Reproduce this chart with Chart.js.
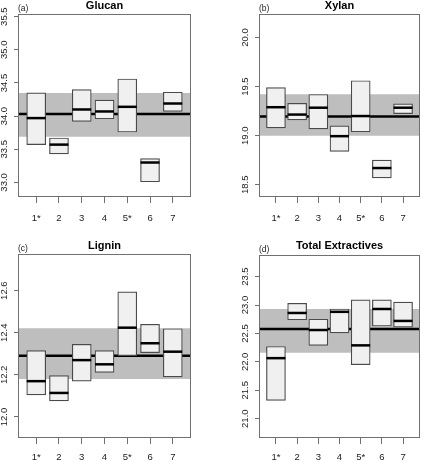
<!DOCTYPE html>
<html>
<head>
<meta charset="utf-8">
<script src="https://cdn.jsdelivr.net/npm/chart.js@4.4.1/dist/chart.umd.min.js"></script>
<style>
    body { margin: 0; background: #fff; }
    canvas { position: absolute; }
</style>
</head>
<body>
<canvas id="glucan" width="216" height="230" style="left:0;top:0"></canvas>
<canvas id="xylan" width="216" height="230" style="left:216px;top:0"></canvas>
<canvas id="lignin" width="216" height="231" style="left:0;top:230px"></canvas>
<canvas id="extractives" width="216" height="231" style="left:216px;top:230px"></canvas>
<script>
// Categories---------------------------------------------------------------
const groups = ['1*', '2', '3', '4', '5*', '6', '7'];
const groupPos = [1, 2, 3, 4, 5, 6, 7];

// Glucan: box low / high / median, reference band [low, mean, high]--------
const glucanLow = [33.57, 33.43, 33.92, 33.96, 33.76, 33.01, 34.07];
const glucanHigh = [34.35, 33.67, 34.40, 34.24, 34.56, 33.36, 34.36];
const glucanMid = [33.97, 33.57, 34.10, 34.07, 34.14, 33.30, 34.19];
const glucanRef = [33.69, 34.03, 34.35];
const glucanTicks = [33.0, 33.5, 34.0, 34.5, 35.0, 35.5];

// Xylan--------------------------------------------------------------------
const xylanLow = [19.08, 19.16, 19.07, 18.84, 19.04, 18.57, 19.225];
const xylanHigh = [19.49, 19.33, 19.42, 19.10, 19.56, 18.75, 19.325];
const xylanMid = [19.29, 19.215, 19.285, 18.995, 19.20, 18.67, 19.285];
const xylanRef = [19.0, 19.196, 19.423];
const xylanTicks = [18.5, 19.0, 19.5, 20.0];

// Lignin-------------------------------------------------------------------
const ligninLow = [12.105, 12.076, 12.17, 12.212, 12.291, 12.305, 12.19];
const ligninHigh = [12.315, 12.196, 12.345, 12.315, 12.594, 12.44, 12.419];
const ligninMid = [12.17, 12.114, 12.27, 12.25, 12.424, 12.35, 12.31];
const ligninRef = [12.18, 12.291, 12.421];
const ligninTicks = [12.0, 12.2, 12.4, 12.6];

// Total extractives--------------------------------------------------------
const extrLow = [21.32, 22.74, 22.29, 22.51, 21.95, 22.63, 22.61];
const extrHigh = [22.27, 23.03, 22.75, 22.93, 23.09, 23.09, 23.05];
const extrMid = [22.065, 22.86, 22.56, 22.88, 22.29, 22.93, 22.72];
const extrRef = [22.16, 22.58, 22.93];
const extrTicks = [21.0, 21.5, 22.0, 22.5, 23.0, 23.5];

Chart.defaults.font.family = "'Liberation Sans', Arial, sans-serif";

// Frame round the plot area and the small (a)/(b) tag----------------------
const panelDeco = {
    id: 'panelDeco',
    afterDatasetsDraw(chart) {
        const { ctx, chartArea: a } = chart;
        ctx.save();
        ctx.strokeStyle = '#707070';
        ctx.lineWidth = 1;
        ctx.strokeRect(a.left + 0.5, a.top + 0.5, a.right - a.left - 1, a.bottom - a.top - 1);
        ctx.restore();
    },
    afterDraw(chart, args, opts) {
        const { ctx, chartArea: a } = chart;
        ctx.save();
        ctx.font = "8.5px 'Liberation Sans', Arial, sans-serif";
        ctx.fillStyle = '#222';
        ctx.textBaseline = 'alphabetic';
        ctx.fillText(opts.text, a.left, a.top - 3.5);
        ctx.restore();
    }
};

function renderPanel(id, p) {
    const canvas = document.getElementById(id);
    const ctx = canvas.getContext('2d');
    const f = p.frame;
    const tickFont = { size: 9.5 };
    const axisColor = '#707070';

    const data = {
        datasets: [
            {   // reference band
                type: 'line', order: 4, clip: 0,
                data: [{ x: -1, y: p.ref[0] }, { x: 9, y: p.ref[0] }],
                fill: { value: p.ref[2] },
                backgroundColor: '#bebebe',
                borderWidth: 0, pointRadius: 0
            },
            {   // reference mean
                type: 'line', order: 3, clip: 0,
                data: [{ x: -1, y: p.ref[1] }, { x: 9, y: p.ref[1] }],
                borderColor: '#000', borderWidth: 2.5, pointRadius: 0
            },
            {   // boxes
                type: 'bar', order: 2,
                data: groupPos.map((x, i) => ({ x: x, y: [p.low[i], p.high[i]] })),
                backgroundColor: '#f0f0f0',
                borderColor: '#4a4a4a',
                borderWidth: 1.2,
                borderSkipped: false,
                barThickness: 19
            },
            {   // medians
                type: 'line', order: 1,
                data: groupPos.map((x, i) => ({ x: x, y: p.mid[i] })),
                showLine: false,
                pointStyle: 'line',
                pointRadius: 9.5,
                pointBorderWidth: 2.5,
                pointBorderColor: '#000',
                borderColor: '#000'
            }
        ]
    };

    const scales = {
        x: {
            type: 'linear',
            min: 0.2,
            max: 7.8,
            offset: false,
            afterBuildTicks: axis => { axis.ticks = groupPos.map(v => ({ value: v })); },
            afterFit: axis => { axis.height = canvas.height - f.bottom; },
            ticks: {
                callback: (v, i) => groups[i],
                autoSkip: false, maxRotation: 0,
                padding: p.xPad, font: tickFont, color: '#222'
            },
            grid: { offset: false, drawOnChartArea: false, tickLength: 6, color: axisColor },
            border: { display: false }
        },
        y: {
            min: p.yMin,
            max: p.yMax,
            afterBuildTicks: axis => { axis.ticks = p.ticks.map(v => ({ value: v })); },
            afterFit: axis => { axis.width = f.left; },
            ticks: {
                callback: v => Number(v).toFixed(1),
                minRotation: 90, maxRotation: 90,
                crossAlign: 'center',
                padding: 0, font: tickFont, color: '#222'
            },
            grid: { drawOnChartArea: false, tickLength: 4, color: axisColor },
            border: { display: false }
        }
    };

    const plugins = {
        legend: { display: false },
        tooltip: { enabled: false },
        title: {
            display: true,
            text: p.title,
            fullSize: false,
            color: '#000',
            font: { size: 11, weight: 'bold', lineHeight: 1 },
            padding: { top: p.titlePad[0], bottom: p.titlePad[1] }
        },
        panelDeco: { text: p.tag }
    };

    new Chart(ctx, {
        type: 'bar',
        data: data,
        options: {
            responsive: false,
            animation: false,
            layout: { padding: { left: 0, top: 0, right: canvas.width - f.right, bottom: 0 } },
            scales: scales,
            plugins: plugins
        },
        plugins: [panelDeco]
    });
}

renderPanel('glucan', {
    title: 'Glucan', tag: '(a)',
    low: glucanLow, high: glucanHigh, mid: glucanMid, ref: glucanRef, ticks: glucanTicks,
    yMin: 32.78, yMax: 35.54,
    frame: { left: 18, right: 191, bottom: 197 }, titlePad: [0, 3], xPad: 9.5
});
renderPanel('xylan', {
    title: 'Xylan', tag: '(b)',
    low: xylanLow, high: xylanHigh, mid: xylanMid, ref: xylanRef, ticks: xylanTicks,
    yMin: 18.375, yMax: 20.24,
    frame: { left: 43, right: 214, bottom: 197 }, titlePad: [0, 3], xPad: 9.5
});
renderPanel('lignin', {
    title: 'Lignin', tag: '(c)',
    low: ligninLow, high: ligninHigh, mid: ligninMid, ref: ligninRef, ticks: ligninTicks,
    yMin: 11.90, yMax: 12.774,
    frame: { left: 18, right: 191, bottom: 208 }, titlePad: [10.5, 2.5], xPad: 8
});
renderPanel('extractives', {
    title: 'Total Extractives', tag: '(d)',
    low: extrLow, high: extrHigh, mid: extrMid, ref: extrRef, ticks: extrTicks,
    yMin: 20.66, yMax: 23.88,
    frame: { left: 43, right: 214, bottom: 208 }, titlePad: [10, 4], xPad: 8
});
</script>
</body>
</html>
